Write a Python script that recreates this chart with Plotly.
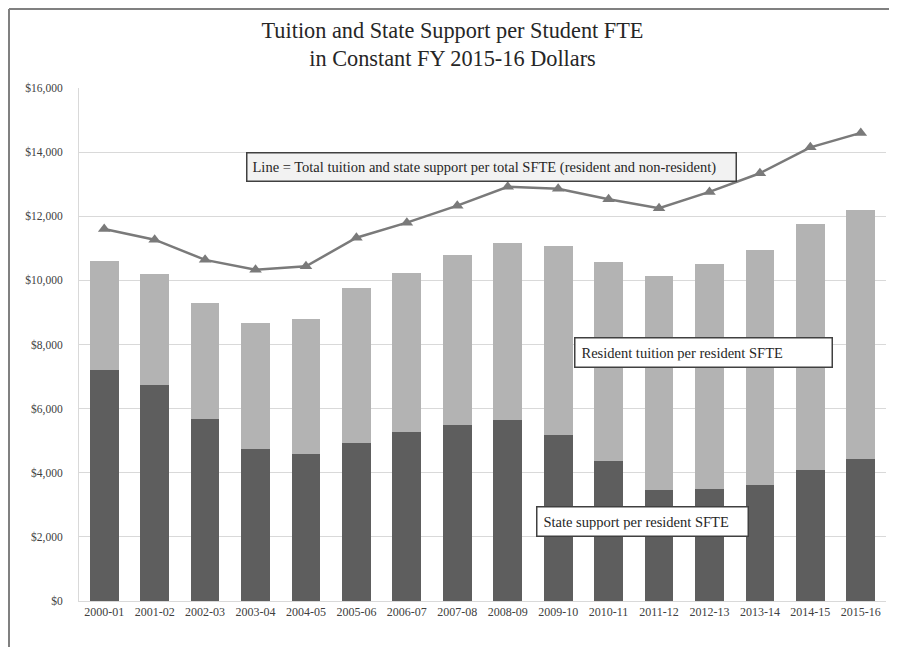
import plotly.graph_objects as go

categories = ["2000-01", "2001-02", "2002-03", "2003-04", "2004-05", "2005-06", "2006-07", "2007-08",
              "2008-09", "2009-10", "2010-11", "2011-12", "2012-13", "2013-14", "2014-15", "2015-16"]
state_support = [7200, 6730, 5680, 4740, 4600, 4920, 5280, 5500, 5660, 5170, 4380, 3450, 3480, 3620, 4080, 4430]
bar_totals = [10600, 10200, 9280, 8680, 8780, 9750, 10230, 10780, 11180, 11070, 10580, 10150, 10500, 10950, 11770, 12200]
resident_tuition = [t - s for t, s in zip(bar_totals, state_support)]
total_line = [11600, 11270, 10640, 10330, 10440, 11330, 11800, 12330, 12920, 12860, 12530, 12250, 12760, 13340, 14150, 14600]
y_ticks = [0, 2000, 4000, 6000, 8000, 10000, 12000, 14000, 16000]
y_tick_labels = ["$0", "$2,000", "$4,000", "$6,000", "$8,000", "$10,000", "$12,000", "$14,000", "$16,000"]

FONT = "Liberation Serif"
W, H = 889, 639
L, R, T, B = 71, 11, 80, 46
PW, PH = W - L - R, H - T - B

fig = go.Figure()
fig.add_trace(go.Bar(x=categories, y=state_support, marker=dict(color="#5e5e5e", line=dict(width=0)),
                     name="State support per resident SFTE"))
fig.add_trace(go.Bar(x=categories, y=resident_tuition, marker=dict(color="#b3b3b3", line=dict(width=0)),
                     name="Resident tuition per resident SFTE"))
fig.add_trace(go.Scatter(x=categories, y=total_line, mode="lines+markers",
                         line=dict(color="#7a7a7a", width=2.5),
                         marker=dict(symbol="triangle-up", size=11, color="#7a7a7a"),
                         name="Total"))

fig.update_layout(
    width=W, height=H,
    barmode="stack", bargap=0.43,
    showlegend=False,
    plot_bgcolor="white", paper_bgcolor="white",
    margin=dict(l=L, r=R, t=T, b=B, autoexpand=False),
    font=dict(family=FONT, color="#404040", size=12),
    title=dict(text="Tuition and State Support per Student FTE<br>in Constant FY 2015-16 Dollars",
               x=0.5, xanchor="center", y=1 - 29.5 / H, yanchor="top",
               font=dict(family=FONT, size=22.3, color="#262626")),
    xaxis=dict(type="category", range=[-0.5, len(categories) - 0.5],
               showgrid=False, showline=True, linecolor="#d9d9d9", linewidth=1,
               tickfont=dict(family=FONT, size=12, color="#404040"), ticks="", automargin=False),
    yaxis=dict(range=[0, 16000], tickvals=y_ticks, ticktext=y_tick_labels,
               showgrid=True, gridcolor="#d9d9d9", gridwidth=1,
               showline=True, linecolor="#d9d9d9", zeroline=False, automargin=False,
               tickfont=dict(family=FONT, size=11.5, color="#404040"), ticks="", ticklabelstandoff=13),
)

fig.add_annotation(x=412 / PW, y=13550, xref="paper", yref="y", xanchor="center", yanchor="middle",
                   text="Line = Total tuition and state support per total SFTE (resident and non-resident)",
                   showarrow=False, font=dict(family=FONT, size=14.5, color="#262626"),
                   width=478, align="left",
                   bgcolor="#f2f2f2", bordercolor="#404040", borderwidth=1.5, borderpad=5)
fig.add_annotation(x=624.5 / PW, y=7760, xref="paper", yref="y", xanchor="center", yanchor="middle",
                   text="Resident tuition per resident SFTE",
                   showarrow=False, font=dict(family=FONT, size=14.5, color="#262626"),
                   width=244, align="left",
                   bgcolor="white", bordercolor="#404040", borderwidth=1.5, borderpad=6)
fig.add_annotation(x=563.5 / PW, y=2490, xref="paper", yref="y", xanchor="center", yanchor="middle",
                   text="State support per resident SFTE",
                   showarrow=False, font=dict(family=FONT, size=14.5, color="#262626"),
                   width=198, align="left",
                   bgcolor="white", bordercolor="#404040", borderwidth=1.5, borderpad=6)

# outer frame (left and top edges)
fx = (1 - L) / PW
fy = 1 + (T - 1) / PH
fig.add_shape(type="line", xref="paper", yref="paper", x0=fx, x1=fx, y0=-B / PH, y1=fy,
              line=dict(color="#808080", width=2))
fig.add_shape(type="line", xref="paper", yref="paper", x0=fx, x1=1 + R / PW, y0=fy, y1=fy,
              line=dict(color="#808080", width=2))

fig.write_html("out.html")
